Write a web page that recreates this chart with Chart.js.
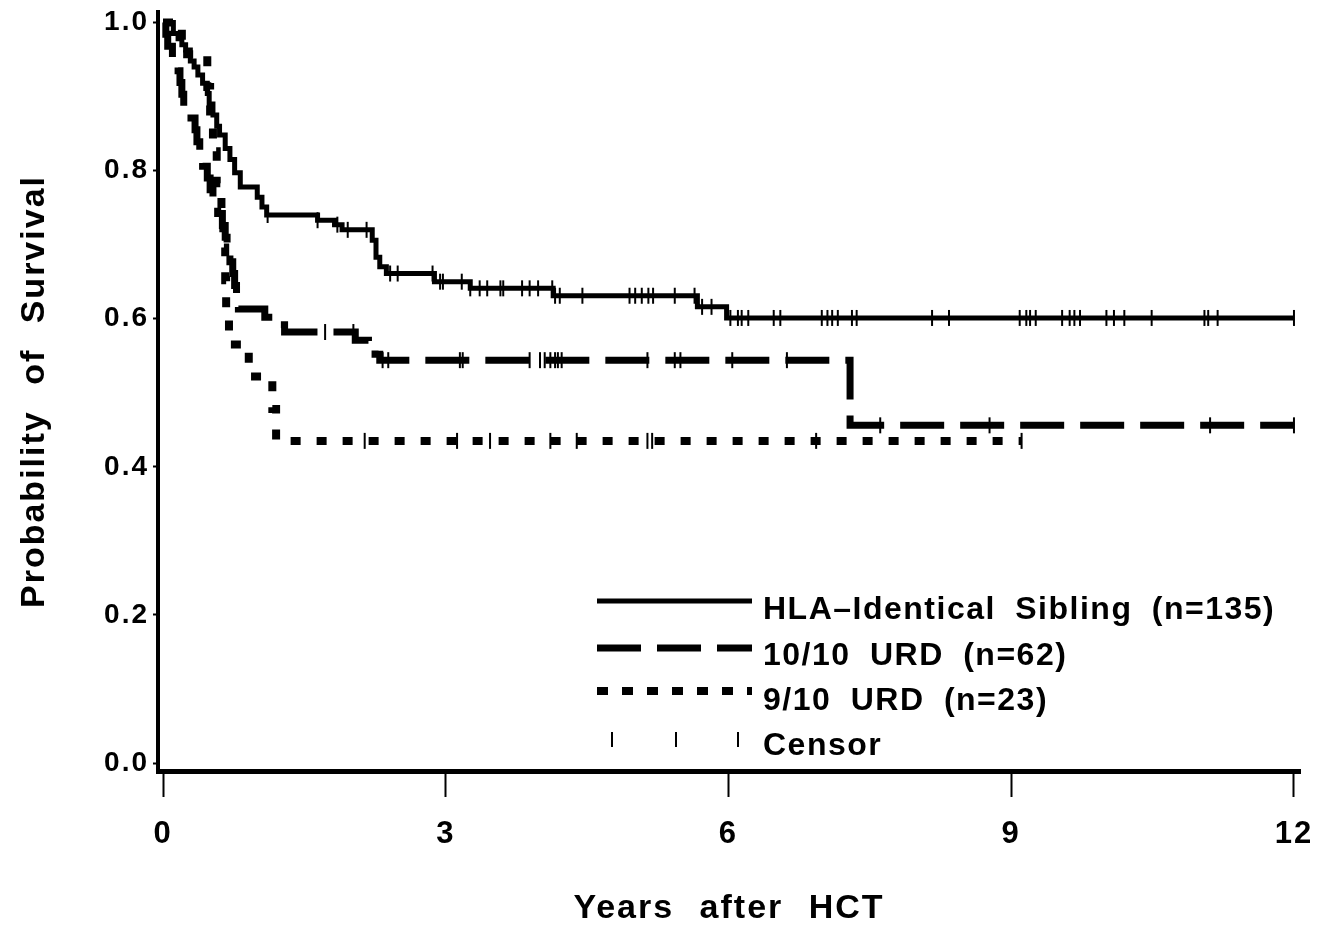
<!DOCTYPE html>
<html>
<head>
<meta charset="utf-8">
<script src="https://cdn.jsdelivr.net/npm/chart.js@4.4.1/dist/chart.umd.min.js"></script>
<style>
html,body{margin:0;padding:0;background:#fff;overflow:hidden}
#wrap{width:1331px;height:933px;position:relative;background:#fff}
</style>
</head>
<body>
<div id="wrap"><canvas id="c" width="1331" height="933"></canvas></div>
<script>
// ---- axis ticks ----
const xTicks = [0, 3, 6, 9, 12];
const xTickLabels = ['0', '3', '6', '9', '12'];
const yTicks = [0, 0.2, 0.4, 0.6, 0.8, 1.0];
const yTickLabels = ['0.0', '0.2', '0.4', '0.6', '0.8', '1.0'];
const xTitle = 'Years after HCT';
const yTitle = 'Probability of Survival';

// ---- HLA-identical sibling (n=135) ----
const sibTimes = [0, 0.11, 0.16, 0.20, 0.24, 0.29, 0.33, 0.37, 0.42, 0.47, 0.49, 0.53, 0.57, 0.60, 0.66, 0.71, 0.76, 0.82, 1.00, 1.05, 1.10, 1.64, 1.82, 1.90, 2.22, 2.26, 2.30, 2.37, 2.88, 3.26, 4.14, 5.67, 5.98];
const sibSurv  = [1.0, 0.985, 0.978, 0.970, 0.963, 0.948, 0.940, 0.929, 0.918, 0.904, 0.890, 0.875, 0.860, 0.848, 0.830, 0.815, 0.797, 0.778, 0.764, 0.751, 0.740, 0.733, 0.727, 0.720, 0.706, 0.683, 0.670, 0.661, 0.650, 0.641, 0.631, 0.616, 0.601];
const sibEnd = 12.0;
const sibCensor = [1.11, 1.64, 1.85, 1.96, 2.16, 2.41, 2.49, 2.86, 2.94, 2.97, 3.17, 3.26, 3.36, 3.44, 3.58, 3.61, 3.81, 3.89, 3.98, 4.13, 4.16, 4.21, 4.45, 4.95, 5.01, 5.08, 5.15, 5.20, 5.43, 5.64, 5.72, 5.82, 6.02, 6.10, 6.14, 6.21, 6.48, 6.55, 6.99, 7.05, 7.10, 7.16, 7.31, 7.36, 8.16, 8.34, 9.09, 9.16, 9.20, 9.26, 9.54, 9.62, 9.67, 9.73, 10.01, 10.09, 10.20, 10.49, 11.05, 11.09, 11.19, 12.0];

// ---- 10/10 URD (n=62) ----
const urd10Times = [0, 0.03, 0.05, 0.10, 0.16, 0.18, 0.20, 0.22, 0.25, 0.34, 0.36, 0.39, 0.42, 0.47, 0.50, 0.53, 0.58, 0.63, 0.66, 0.68, 0.71, 0.74, 0.76, 0.78, 0.80, 1.08, 1.21, 1.29, 2.04, 2.18, 2.25, 2.30, 7.29];
const urd10Surv  = [1.0, 0.984, 0.968, 0.952, 0.935, 0.919, 0.903, 0.887, 0.871, 0.855, 0.839, 0.823, 0.806, 0.790, 0.774, 0.758, 0.742, 0.726, 0.710, 0.694, 0.677, 0.661, 0.645, 0.629, 0.613, 0.602, 0.592, 0.582, 0.571, 0.562, 0.552, 0.544, 0.456];
const urd10End = 12.0;
const urd10Censor = [1.72, 2.02, 2.33, 2.39, 3.15, 3.18, 3.89, 4.00, 4.05, 4.11, 4.16, 4.19, 4.23, 5.14, 5.43, 5.49, 6.04, 6.62, 7.61, 8.77, 11.11, 12.0];

// ---- 9/10 URD (n=23) ----
const urd9Times = [0, 0.20, 0.47, 0.50, 0.53, 0.57, 0.62, 0.64, 0.66, 0.67, 0.70, 0.91, 1.16, 1.20];
const urd9Surv  = [1.0, 0.957, 0.913, 0.870, 0.826, 0.783, 0.739, 0.696, 0.652, 0.609, 0.565, 0.522, 0.478, 0.435];
const urd9End = 9.11;
const urd9Censor = [2.14, 3.12, 3.47, 4.11, 4.39, 5.14, 5.19, 6.93, 9.11];

// ---- legend ----
const legendLabels = ['HLA\u2013Identical Sibling (n=135)', '10/10 URD (n=62)', '9/10 URD (n=23)', 'Censor'];

const FONT = "'Liberation Sans', Arial, Helvetica, sans-serif";
Chart.defaults.font.family = FONT;
Chart.defaults.color = '#000';

const STYLE_SIB = { width: 5, dash: [] };
const STYLE_U10 = { width: 7, dash: [44, 16] };
const STYLE_U9  = { width: 8, dash: [10, 16] };

function stepValue(times, surv, t) {
  let v = surv[0];
  for (let i = 0; i < times.length; i++) { if (times[i] <= t) v = surv[i]; }
  return v;
}
function curve(times, surv, end) {
  const pts = times.map((t, i) => ({ x: t, y: surv[i] }));
  pts.push({ x: end, y: surv[surv.length - 1] });
  return pts;
}
function censorPts(times, surv, cens) {
  return cens.map(c => ({ x: c, y: stepValue(times, surv, c) }));
}
function lineDs(label, data, st) {
  return { label, data, stepped: 'before', borderColor: '#000', borderWidth: st.width,
           borderDash: st.dash, borderCapStyle: 'butt', pointRadius: 0, fill: false, tension: 0 };
}
function censorDs(data) {
  return { label: 'Censor', data, showLine: false, pointStyle: 'line', pointRotation: 90,
           pointRadius: 8, pointBorderWidth: 2, pointBorderColor: '#000', pointBackgroundColor: '#000' };
}

const spacingPlugin = {
  id: 'spacing',
  beforeDraw(chart) {
    const ctx = chart.ctx;
    ctx.letterSpacing = '2px';
    ctx.wordSpacing = '14px';
  },
  afterDatasetsDraw(chart) {
    chart.ctx.letterSpacing = '0px';
    chart.ctx.wordSpacing = '0px';
  }
};

const legendPlugin = {
  id: 'kmLegend',
  afterDraw(chart) {
    const ctx = chart.ctx;
    ctx.save();
    ctx.strokeStyle = '#000';
    ctx.fillStyle = '#000';
    ctx.lineCap = 'butt';
    const x0 = 597, x1 = 752;
    const styles = [STYLE_SIB, STYLE_U10, { width: 8, dash: [11, 14] }];
    const lineYs = [601, 648, 691];
    styles.forEach((st, i) => {
      ctx.lineWidth = st.width;
      ctx.setLineDash(st.dash);
      ctx.beginPath();
      ctx.moveTo(x0, lineYs[i]);
      ctx.lineTo(x1, lineYs[i]);
      ctx.stroke();
    });
    ctx.setLineDash([]);
    ctx.lineWidth = 2;
    [612, 676, 738].forEach(x => {
      ctx.beginPath(); ctx.moveTo(x, 732); ctx.lineTo(x, 747); ctx.stroke();
    });
    ctx.font = 'bold 32px ' + FONT;
    ctx.letterSpacing = '1.5px';
    ctx.wordSpacing = '9px';
    ctx.textAlign = 'left';
    ctx.textBaseline = 'alphabetic';
    const baseYs = [619, 665, 710, 755];
    legendLabels.forEach((t, i) => ctx.fillText(t, 763, baseYs[i]));
    ctx.restore();
  }
};

new Chart(document.getElementById('c'), {
  type: 'line',
  data: {
    datasets: [
      lineDs(legendLabels[0], curve(sibTimes, sibSurv, sibEnd), STYLE_SIB),
      lineDs(legendLabels[1], curve(urd10Times, urd10Surv, urd10End), STYLE_U10),
      lineDs(legendLabels[2], curve(urd9Times, urd9Surv, urd9End), STYLE_U9),
      censorDs(censorPts(sibTimes, sibSurv, sibCensor)),
      censorDs(censorPts(urd10Times, urd10Surv, urd10Censor)),
      censorDs(censorPts(urd9Times, urd9Surv, urd9Censor))
    ]
  },
  options: {
    responsive: false,
    devicePixelRatio: 1,
    animation: false,
    events: [],
    layout: { padding: { left: 0, right: 31, top: 12, bottom: 0 } },
    plugins: { legend: { display: false }, tooltip: { enabled: false }, title: { display: false } },
    scales: {
      x: {
        type: 'linear', min: -0.0531, max: 12.064,
        afterBuildTicks: s => { s.ticks = xTicks.map(v => ({ value: v })); },
        afterFit: s => { s.height = 162; s.paddingLeft = 0; s.paddingRight = 0; s.paddingTop = 0; s.paddingBottom = 0; },
        ticks: { callback: (v, i) => xTickLabels[i], font: { size: 31, weight: 'bold' }, color: '#000',
                 padding: 19, maxRotation: 0, autoSkip: false },
        grid: { display: true, drawOnChartArea: false, drawTicks: true, tickLength: 26, tickWidth: 2, tickColor: '#000' },
        border: { display: true, width: 5, color: '#000' },
        title: { display: true, text: xTitle, color: '#000', font: { size: 34, weight: 'bold' }, padding: { top: 0, bottom: 4 } }
      },
      y: {
        type: 'linear', min: -0.0108, max: 1.01418,
        afterBuildTicks: s => { s.ticks = yTicks.map(v => ({ value: v })); },
        afterFit: s => { s.width = 158; s.paddingLeft = 0; s.paddingRight = 0; s.paddingTop = 0; s.paddingBottom = 0; },
        ticks: { callback: (v, i) => yTickLabels[i], font: { size: 28, weight: 'bold' }, color: '#000', padding: 4, autoSkip: false },
        grid: { display: true, drawOnChartArea: false, drawTicks: true, tickLength: 5, tickWidth: 2, tickColor: '#000' },
        border: { display: true, width: 4, color: '#000' },
        title: { display: true, text: yTitle, color: '#000', font: { size: 34, weight: 'bold' }, padding: { top: 14, bottom: 0 } }
      }
    }
  },
  plugins: [spacingPlugin, legendPlugin]
});
</script>
</body>
</html>
